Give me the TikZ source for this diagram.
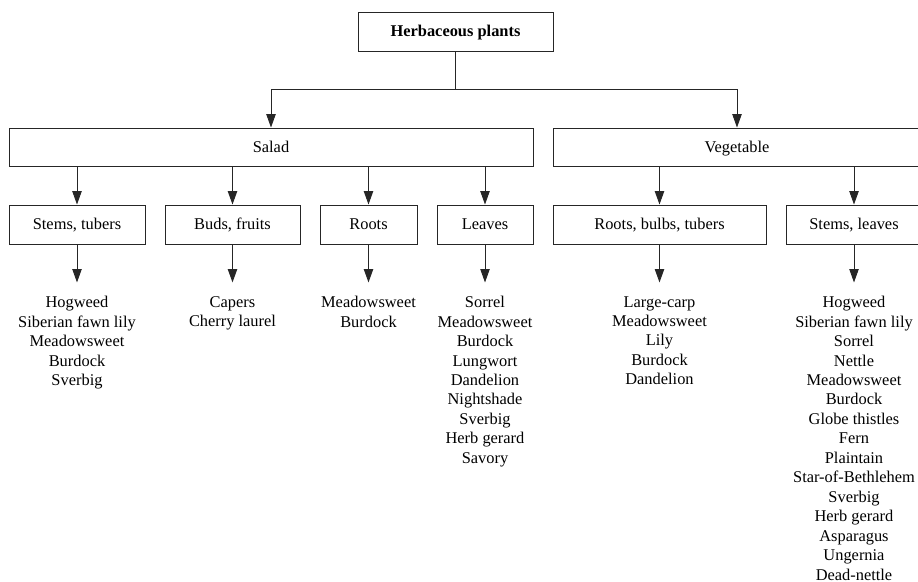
\documentclass[tikz,border=0pt]{standalone}
\usepackage{fontspec}
\setmainfont{Liberation Serif}
\usetikzlibrary{arrows.meta}
\begin{document}
\begin{tikzpicture}[x=0.75pt,y=-0.75pt,
  box/.style={draw=black!85, line width=0.7pt, inner sep=0pt, text height=8.8pt, text depth=0.6pt, font=\fontsize{12.3}{14.6}\selectfont},
  lst/.style={inner sep=0pt, anchor=north, align=center, font=\fontsize{12.3}{14.6}\selectfont},
  arr/.style={draw=black!85, line width=0.7pt, -{Triangle[length=10pt,width=7pt]}},
  ln/.style={draw=black!85, line width=0.7pt}]
\useasboundingbox (0,0) rectangle (918,582);
% top
\node[box, minimum width=146.25pt, minimum height=29.25pt, font=\fontsize{12.3}{14.6}\selectfont\bfseries] (top) at (455.5,31.5) {Herbaceous plants};
% level 1
\node[box, minimum width=393pt, minimum height=28.5pt] (salad) at (271,147) {Salad};
\node[box, minimum width=276pt, minimum height=28.5pt] (veg) at (737,147) {Vegetable};
% level 2
\node[box, minimum width=102pt, minimum height=29.25pt] (st) at (77,224.5) {Stems, tubers};
\node[box, minimum width=101.25pt, minimum height=29.25pt] (bf) at (232.5,224.5) {Buds, fruits};
\node[box, minimum width=72.75pt, minimum height=29.25pt] (ro) at (368.5,224.5) {Roots};
\node[box, minimum width=72pt, minimum height=29.25pt] (le) at (485,224.5) {Leaves};
\node[box, minimum width=159.75pt, minimum height=29.25pt] (rbt) at (659.5,224.5) {Roots, bulbs, tubers};
\node[box, minimum width=102pt, minimum height=29.25pt] (sl) at (854,224.5) {Stems, leaves};
% lists
\node[lst] (lst1) at (77,296) {Hogweed\\Siberian fawn lily\\Meadowsweet\\Burdock\\Sverbig};
\node[lst] (lst2) at (232.5,296) {Capers\\Cherry laurel};
\node[lst] (lst3) at (368.5,296) {Meadowsweet\\Burdock};
\node[lst] (lst4) at (485,296) {Sorrel\\Meadowsweet\\Burdock\\Lungwort\\Dandelion\\Nightshade\\Sverbig\\Herb gerard\\Savory};
\node[lst] (lst5) at (659.5,296) {Large-carp\\Meadowsweet\\Lily\\Burdock\\Dandelion};
\node[lst] (lst6) at (854,296) {Hogweed\\Siberian fawn lily\\Sorrel\\Nettle\\Meadowsweet\\Burdock\\Globe thistles\\Fern\\Plaintain\\Star-of-Bethlehem\\Sverbig\\Herb gerard\\Asparagus\\Ungernia\\Dead-nettle};
% connectors
\draw[ln] (top.south) -- ++(0,38) coordinate (j);
\draw[arr] (j) -| (salad.north);
\draw[arr] (j) -| (veg.north);
\foreach \c in {st,bf,ro,le} { \draw[arr] (salad.south -| \c.north) -- (\c.north); }
\foreach \c in {rbt,sl} { \draw[arr] (veg.south -| \c.north) -- (\c.north); }
\foreach \c/\l in {st/lst1,bf/lst2,ro/lst3,le/lst4,rbt/lst5,sl/lst6} {
  \draw[arr] (\c.south) -- ++(0,38) coordinate (\l-t);
}
\end{tikzpicture}
\end{document}
